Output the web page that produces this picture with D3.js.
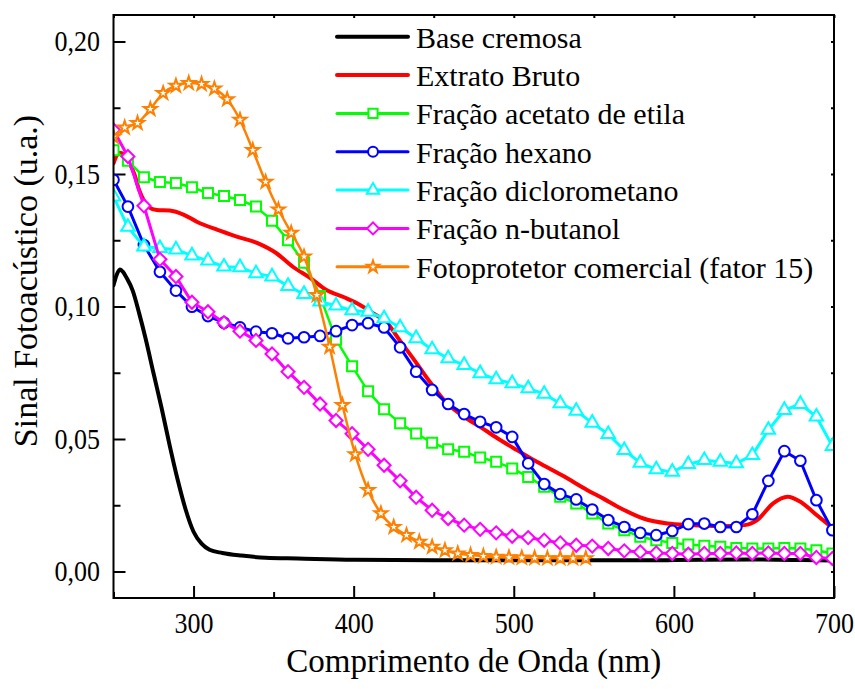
<!DOCTYPE html>
<html>
<head>
<meta charset="utf-8">
<script src="https://cdn.jsdelivr.net/npm/d3@7"></script>
<style>
  body { margin: 0; background: #fff; }
  svg { display: block; }
  text { font-family: "Liberation Serif", "Times New Roman", serif; fill: #000; }
</style>
</head>
<body>
<svg id="chart" width="855" height="689"></svg>
<script>
// wavelengths (nm) of the marker series
const wl10 = [250, 259, 269, 279, 289, 299, 309, 319, 329, 339, 349, 359, 369, 379, 389, 399, 409, 419, 429, 439,
              449, 459, 469, 479, 489, 499, 509, 519, 529, 539, 549, 559, 569, 579, 589, 599, 609, 619, 629, 639,
              649, 659, 669, 679, 689, 699];
const wl8 = [250, 257, 265, 273, 281, 289, 297, 305, 313, 321, 329, 337, 345, 353, 361, 369, 377, 385, 393, 401,
             409, 417, 425, 433, 441, 449, 457, 465, 473, 481, 489, 497, 505, 513, 521, 529, 537, 545];

// Base cremosa (smooth line)
const baseWl = [250, 252, 254, 256, 258, 262, 266, 270, 275, 280, 285, 290, 295, 300, 305, 310, 318, 330, 345, 365,
                400, 450, 500, 550, 600, 650, 680, 700];
const baseVal = [0.108, 0.112, 0.114, 0.113, 0.111, 0.106, 0.0975, 0.088, 0.0748, 0.0618, 0.0478, 0.0348, 0.0235, 0.015,
                 0.0105, 0.0082, 0.007, 0.006, 0.0052, 0.0049, 0.0044, 0.0042, 0.0042, 0.0042, 0.0043, 0.0045, 0.0043, 0.0041];

// Extrato Bruto (smooth line)
const brutoWl = [250, 252, 254, 257, 260, 263, 266, 269, 272, 277, 285, 294, 302, 315, 327, 340, 352, 362, 373, 383,
                 394, 404, 412, 421, 429, 437, 448, 458, 469, 479, 490, 502, 515, 531, 546, 556, 567, 581, 596, 610,
                 629, 644, 652, 662, 671, 679, 688, 700];
const brutoVal = [0.154, 0.157, 0.158, 0.157, 0.154, 0.150, 0.144, 0.140, 0.1375, 0.1364, 0.1362, 0.1346, 0.132, 0.1289,
                  0.1264, 0.1239, 0.120, 0.115, 0.1107, 0.1062, 0.1035, 0.1006, 0.0975, 0.0937, 0.087, 0.0805, 0.0712,
                  0.0636, 0.0584, 0.0546, 0.0502, 0.0458, 0.0412, 0.036, 0.0307, 0.0275, 0.0238, 0.020, 0.0181, 0.0175,
                  0.0171, 0.0175, 0.0194, 0.0257, 0.0282, 0.0263, 0.0219, 0.016];

// marker series, one value per wl10 entry
const acetato = [0.159, 0.155, 0.1488, 0.147, 0.1466, 0.145, 0.1428, 0.1417, 0.1402, 0.1377, 0.1324, 0.125, 0.1165, 0.104,
                 0.0875, 0.0775, 0.068, 0.0612, 0.0559, 0.0521, 0.0486, 0.0461, 0.0452, 0.043, 0.0414, 0.0389, 0.0357,
                 0.032, 0.0282, 0.0257, 0.0219, 0.0181, 0.0156, 0.0131, 0.0118, 0.0108, 0.0102, 0.0097, 0.0093, 0.0089,
                 0.0087, 0.0087, 0.0089, 0.0087, 0.008, 0.0068];
const hexano = [0.1478, 0.1377, 0.1232, 0.1131, 0.106, 0.0999, 0.0964, 0.0939, 0.0921, 0.0905, 0.0899, 0.088, 0.0884, 0.0889,
                0.0907, 0.093, 0.0937, 0.0921, 0.0846, 0.0754, 0.0685, 0.0632, 0.0594, 0.0565, 0.0544, 0.0508, 0.0408,
                0.033, 0.0292, 0.0272, 0.0234, 0.0194, 0.0168, 0.0146, 0.0137, 0.0153, 0.0179, 0.0181, 0.0168, 0.0168,
                0.0216, 0.0342, 0.0454, 0.0418, 0.0269, 0.0156];
const dicloro = [0.1415, 0.130, 0.1226, 0.122, 0.1215, 0.1192, 0.1173, 0.115, 0.1148, 0.1125, 0.1113, 0.1077, 0.1047, 0.1018,
                 0.1003, 0.0985, 0.098, 0.0955, 0.0921, 0.088, 0.0838, 0.0804, 0.0779, 0.0748, 0.0725, 0.071, 0.0691,
                 0.067, 0.0634, 0.0606, 0.0561, 0.0518, 0.0458, 0.041, 0.0385, 0.0376, 0.0405, 0.042, 0.0414, 0.0408,
                 0.0439, 0.0534, 0.0609, 0.0632, 0.0584, 0.0473];
const butanol = [0.1666, 0.1566, 0.138, 0.1178, 0.1113, 0.1016, 0.098, 0.0939, 0.0907, 0.0872, 0.0821, 0.0754, 0.0695, 0.0632,
                 0.057, 0.052, 0.0461, 0.0401, 0.0342, 0.028, 0.0231, 0.020, 0.0175, 0.0159, 0.0146, 0.0133, 0.0128,
                 0.0118, 0.0108, 0.0099, 0.0096, 0.0087, 0.0078, 0.0074, 0.007, 0.0068, 0.0065, 0.0068, 0.0068, 0.007,
                 0.0068, 0.007, 0.0068, 0.0068, 0.0053, 0.0049];
// one value per wl8 entry
const fotoprot = [0.164, 0.1675, 0.1692, 0.1745, 0.1805, 0.1833, 0.1843, 0.1839, 0.1822, 0.1782, 0.1704, 0.159, 0.147,
                  0.1366, 0.1278, 0.1188, 0.1043, 0.0848, 0.0628, 0.0442, 0.0307, 0.0219, 0.0168, 0.0137, 0.0112, 0.0093,
                  0.008, 0.0068, 0.0062, 0.0058, 0.0055, 0.0053, 0.0052, 0.0051, 0.005, 0.005, 0.005, 0.005];

const legendLabels = ["Base cremosa", "Extrato Bruto", "Fração acetato de etila", "Fração hexano",
                      "Fração diclorometano", "Fração n-butanol", "Fotoprotetor comercial (fator 15)"];
const xTicks = [300, 400, 500, 600, 700];
const xMinor = [250, 350, 450, 550, 650];
const yTicks = [0, 0.05, 0.10, 0.15, 0.20];
const yMinor = [0.025, 0.075, 0.125, 0.175];

const series = [
    { name: legendLabels[0], wl: baseWl, val: baseVal, color: "#000000", lw: 4, curve: d3.curveMonotoneX },
    { name: legendLabels[1], wl: brutoWl, val: brutoVal, color: "#ff0000", lw: 4, curve: d3.curveMonotoneX },
    { name: legendLabels[2], wl: wl10, val: acetato, color: "#00ff00", lw: 2.5, curve: d3.curveLinear,
      sym: d3.symbolSquare, size: 100, rot: 0 },
    { name: legendLabels[3], wl: wl10, val: hexano, color: "#0000ff", lw: 3, curve: d3.curveLinear,
      sym: d3.symbolCircle, size: 90, rot: 0 },
    { name: legendLabels[4], wl: wl10, val: dicloro, color: "#00ffff", lw: 3, curve: d3.curveLinear,
      sym: d3.symbolTriangle, size: 78, rot: 0 },
    { name: legendLabels[5], wl: wl10, val: butanol, color: "#ff00ff", lw: 3, curve: d3.curveLinear,
      sym: d3.symbolSquare, size: 85, rot: 45 },
    { name: legendLabels[6], wl: wl8, val: fotoprot, color: "#ff8000", lw: 2.5, curve: d3.curveMonotoneX,
      sym: d3.symbolStar, size: 52, rot: 0 }
];

const svg = d3.select("#chart");
const margin = { top: 15, right: 21, bottom: 91, left: 113.5 };
const innerWidth = +svg.attr("width") - margin.left - margin.right;
const innerHeight = +svg.attr("height") - margin.top - margin.bottom;

const xScale = d3.scaleLinear().domain([250, 700]).range([0, innerWidth]);
const yScale = d3.scaleLinear().domain([-0.01, 0.21]).range([innerHeight, 0]);

const g = svg.append("g").attr("transform", `translate(${margin.left},${margin.top})`);

g.append("clipPath").attr("id", "plot-clip")
    .append("rect").attr("width", innerWidth).attr("height", innerHeight);

// axes: inward ticks
const fmtComma = d => d3.format(".2f")(d).replace(".", ",");

const yAxisG = g.append("g").attr("class", "axis")
    .call(d3.axisLeft(yScale).tickValues(yTicks).tickSize(-12).tickPadding(13.5).tickFormat(fmtComma));
g.append("g").attr("class", "axis")
    .call(d3.axisLeft(yScale).tickValues(yMinor).tickSize(-7).tickFormat(() => ""));

const xAxisG = g.append("g").attr("class", "axis")
    .attr("transform", `translate(0,${innerHeight})`)
    .call(d3.axisBottom(xScale).tickValues(xTicks).tickSize(-12).tickPadding(13.5).tickFormat(d3.format("d")));
g.append("g").attr("class", "axis")
    .attr("transform", `translate(0,${innerHeight})`)
    .call(d3.axisBottom(xScale).tickValues(xMinor).tickSize(-6).tickFormat(() => ""));

g.append("g").attr("class", "axis")
    .call(d3.axisTop(xScale).tickValues(xTicks.concat(xMinor)).tickSize(-3).tickFormat(() => ""));
g.append("g").attr("class", "axis")
    .attr("transform", `translate(${innerWidth},0)`)
    .call(d3.axisRight(yScale).tickValues(yTicks.concat(yMinor)).tickSize(-3).tickFormat(() => ""));

g.selectAll(".axis .domain").remove();
g.selectAll(".axis .tick line").attr("stroke", "#000").attr("stroke-width", 2);
g.selectAll(".axis text").style("font-size", "26px").style("font-family", null);
yAxisG.selectAll("text").attr("transform", "scale(1,1.1)");
xAxisG.selectAll("text").attr("transform", "scale(1,1.1)");

// data
const plot = g.append("g").attr("clip-path", "url(#plot-clip)");

series.forEach(s => {
    const pts = d3.zip(s.wl, s.val);
    const line = d3.line()
        .x(d => xScale(d[0]))
        .y(d => yScale(d[1]))
        .curve(s.curve);

    const sg = plot.append("g");
    sg.append("path")
        .attr("d", line(pts))
        .attr("fill", "none")
        .attr("stroke", s.color)
        .attr("stroke-width", s.lw)
        .attr("stroke-linejoin", "round")
        .attr("stroke-linecap", "round");

    if (s.sym) {
        const sym = d3.symbol(s.sym, s.size);
        sg.selectAll("path.marker")
            .data(pts)
            .join("path")
            .attr("class", "marker")
            .attr("d", sym)
            .attr("transform", d => `translate(${xScale(d[0])},${yScale(d[1])}) rotate(${s.rot})`)
            .attr("fill", "#fff")
            .attr("stroke", s.color)
            .attr("stroke-width", 2);
    }
});

// frame
g.append("rect")
    .attr("width", innerWidth)
    .attr("height", innerHeight)
    .attr("fill", "none")
    .attr("stroke", "#000")
    .attr("stroke-width", 2);

// legend
const legend = svg.append("g").attr("transform", "translate(337,36.7)");
series.forEach((s, i) => {
    const row = legend.append("g").attr("transform", `translate(0,${i * 38.35})`);
    row.append("line")
        .attr("x1", 0).attr("x2", 71)
        .attr("stroke", s.color)
        .attr("stroke-width", s.sym ? 3 : 4)
        .attr("stroke-linecap", "round");
    if (s.sym) {
        row.append("path")
            .attr("d", d3.symbol(s.sym, s.size * 0.85)())
            .attr("transform", `translate(36,0) rotate(${s.rot})`)
            .attr("fill", "#fff")
            .attr("stroke", s.color)
            .attr("stroke-width", 2);
    }
    row.append("text")
        .attr("x", 79)
        .attr("y", 11)
        .style("font-size", "30px")
        .text(s.name);
});

// axis titles
svg.append("text")
    .attr("x", margin.left + innerWidth / 2)
    .attr("y", 672)
    .attr("text-anchor", "middle")
    .style("font-size", "33px")
    .text("Comprimento de Onda (nm)");

svg.append("text")
    .attr("transform", "translate(36.5,281) rotate(-90)")
    .attr("text-anchor", "middle")
    .style("font-size", "34px")
    .text("Sinal Fotoacústico (u.a.)");
</script>
</body>
</html>
